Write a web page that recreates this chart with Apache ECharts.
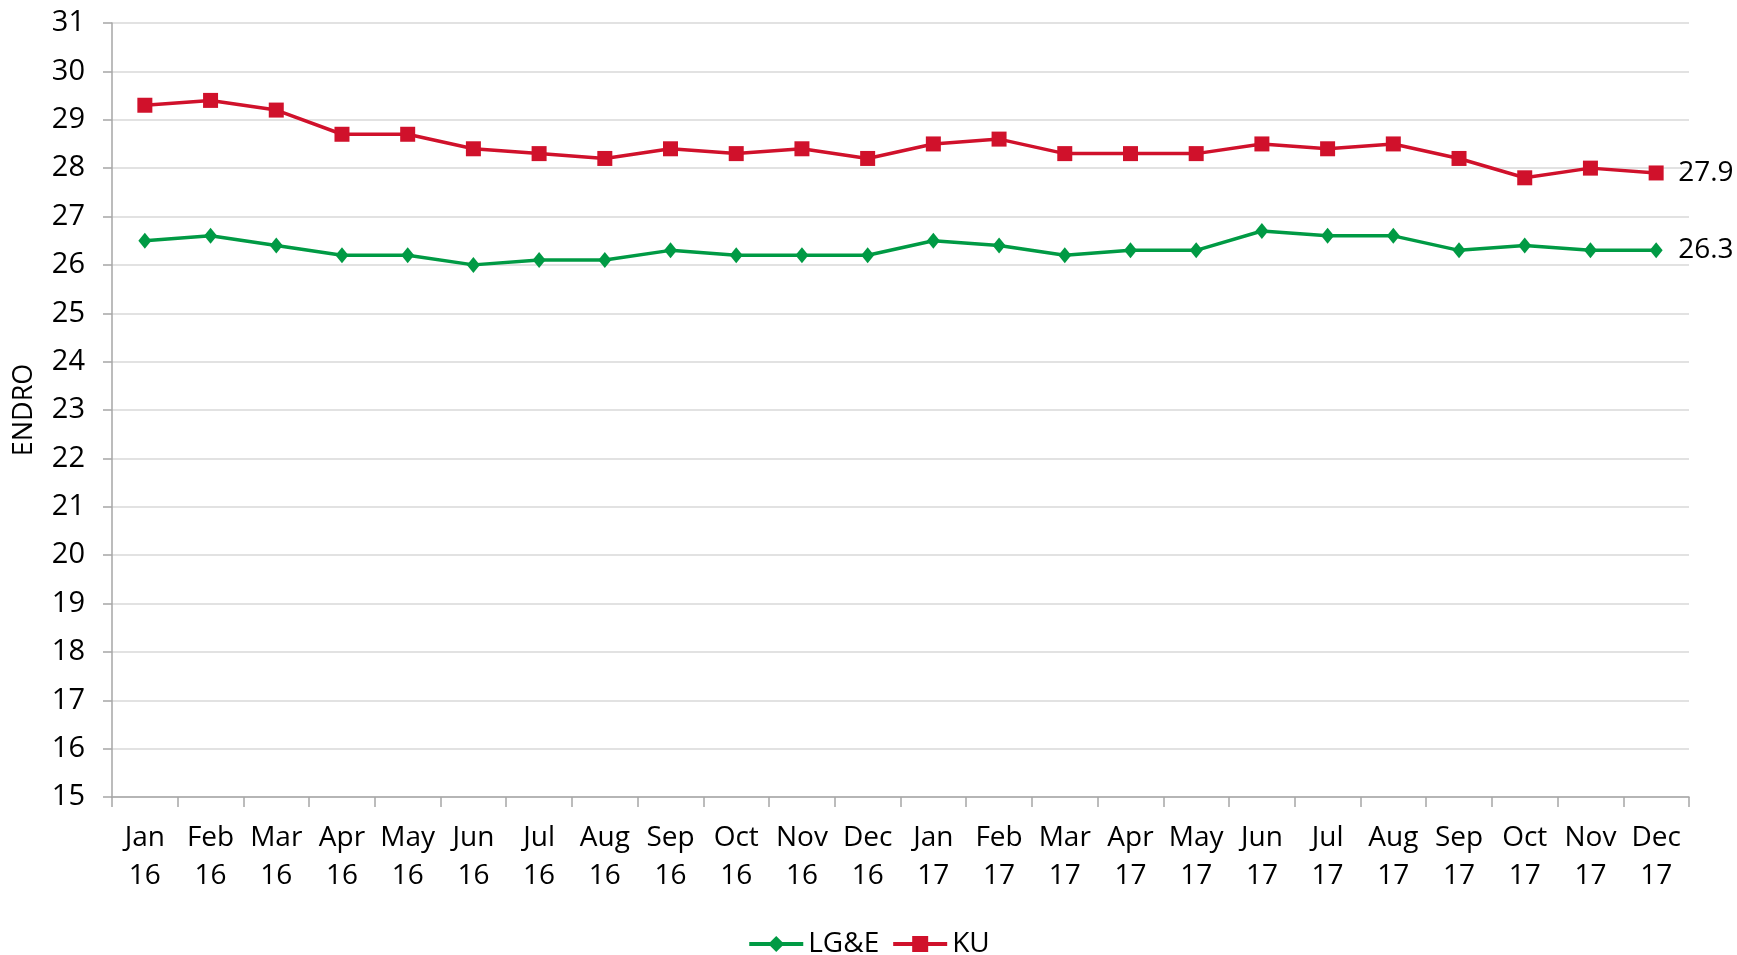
<!DOCTYPE html>
<html><head><meta charset="utf-8">
<script src="https://cdn.jsdelivr.net/npm/echarts@6/dist/echarts.min.js"></script>
<style>html,body{margin:0;padding:0;background:#fff}#c{width:1737px;height:955px}</style>
</head><body><div id="c"></div>
<script>
const months = ['Jan','Feb','Mar','Apr','May','Jun','Jul','Aug','Sep','Oct','Nov','Dec'];
const years = ['16','17'];
const categories = [];
years.forEach(y => months.forEach(m => categories.push(m + '\n' + y)));
const lgeValues = [26.5,26.6,26.4,26.2,26.2,26.0,26.1,26.1,26.3,26.2,26.2,26.2,26.5,26.4,26.2,26.3,26.3,26.7,26.6,26.6,26.3,26.4,26.3,26.3];
const kuValues  = [29.3,29.4,29.2,28.7,28.7,28.4,28.3,28.2,28.4,28.3,28.4,28.2,28.5,28.6,28.3,28.3,28.3,28.5,28.4,28.5,28.2,27.8,28.0,27.9];
const yMin = 15, yMax = 31, yStep = 1;
const FONT = '"Open Sans", sans-serif';
const chart = echarts.init(document.getElementById('c'), null, {renderer:'canvas'});
chart.setOption({
  animation:false,
  textStyle:{fontFamily:FONT},
  grid:{left:112,right:48,top:23,bottom:158,containLabel:false},
  legend:{
    top:925, left:'center', itemWidth:54, itemHeight:20, itemGap:12,
    lineStyle:{width:4},
    textStyle:{fontSize:28,color:'#000',fontFamily:FONT},
    data:['LG&E','KU']
  },
  xAxis:{
    type:'category', data:categories, boundaryGap:true,
    axisLine:{lineStyle:{color:'#a6a6a6',width:1.5}},
    axisTick:{show:true,length:10,alignWithLabel:false,lineStyle:{color:'#a6a6a6',width:1.5}},
    axisLabel:{interval:0,fontSize:28,color:'#000',lineHeight:38,margin:22,fontFamily:FONT}
  },
  yAxis:{
    type:'value', min:yMin, max:yMax, interval:yStep,
    name:'ENDRO', nameLocation:'middle', nameGap:74,
    nameTextStyle:{fontSize:27,color:'#000',fontFamily:FONT},
    axisLine:{show:true,lineStyle:{color:'#a6a6a6',width:1.5}},
    axisTick:{show:true,length:9,lineStyle:{color:'#a6a6a6',width:1.5}},
    splitLine:{lineStyle:{color:'#d9d9d9',width:1.5}},
    axisLabel:{fontSize:29,color:'#000',margin:27,fontFamily:FONT}
  },
  series:[
    {name:'LG&E',type:'line',data:lgeValues,color:'#009a44',
     symbol:'diamond',symbolSize:[13,16],lineStyle:{width:3.5},
     endLabel:{show:true,formatter:p=>p.value.toFixed(1),fontSize:28,color:'#000',distance:22,fontFamily:FONT}},
    {name:'KU',type:'line',data:kuValues,color:'#d0112b',
     symbol:'rect',symbolSize:15,lineStyle:{width:3.5},
     endLabel:{show:true,formatter:p=>p.value.toFixed(1),fontSize:28,color:'#000',distance:22,fontFamily:FONT}}
  ]
});
</script></body></html>
